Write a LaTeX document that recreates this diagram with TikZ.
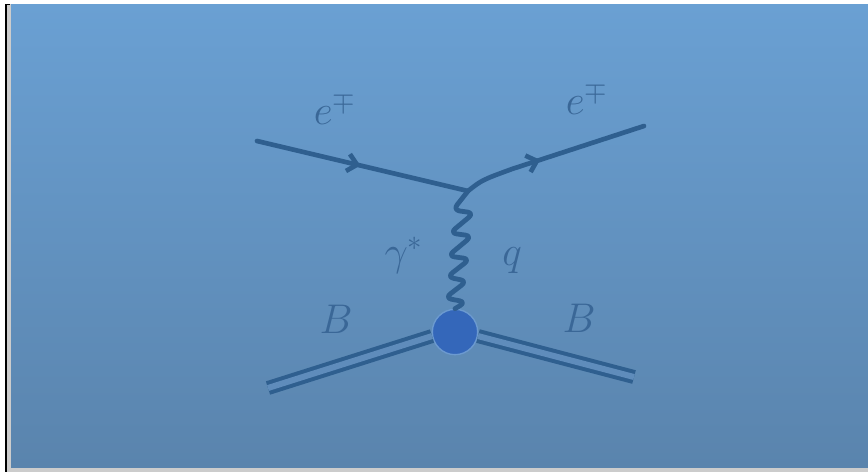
\documentclass[tikz,border=0pt]{standalone}
\usepackage{tikz}
\usetikzlibrary{arrows.meta, decorations.markings}
\usepackage{xcolor}
\usepackage{amsmath}
\definecolor{slidetop}{HTML}{6AA0D3}
\definecolor{slidebot}{HTML}{5A84AD}
\definecolor{lineblue}{HTML}{2F5F8F}
\definecolor{textblue}{HTML}{3A6797}
\definecolor{blobfill}{HTML}{3467BA}
\definecolor{blobedge}{HTML}{6C9AD0}
\definecolor{gapblue}{HTML}{5F8CBB}
\tikzset{
  fermion/.style={draw=lineblue, line width=3.5pt, line cap=round,
                  postaction={decorate},
                  decoration={markings, mark=at position #1 with
                    {\arrow{Straight Barb[length=7pt, width=13pt, line width=3.5pt]}}}},
  fermion/.default=0.5,
  photon/.style={draw=lineblue, line width=3.6pt, line cap=round,
                 line join=round, rounded corners=5pt},
  hadron/.style={draw=lineblue, line width=3pt, double=gapblue,
                 double distance=4.5pt},
  plbl/.style={text=textblue, font=\huge, scale=1.5, transform shape},
}

\begin{document}
\begin{tikzpicture}[x=0.75pt, y=-0.75pt]
  \useasboundingbox (0,0) rectangle (868,472);
  % slide frame
  \fill[white] (0,0) rectangle (868,472);
  \fill[black!20] (7,4) rectangle (868,472);
  \shade[top color=slidetop, bottom color=slidebot] (11,4) rectangle (868,467);
  \fill[black] (5,4) rectangle (7,472);
  \fill[black] (5,4) rectangle (10,5);

  % vertices and ends
  \coordinate (ein) at (257,141);
  \coordinate (vtx) at (468,191);
  \coordinate (ebend) at (512,169);
  \coordinate (eout) at (644,126);
  \node[circle, fill=blobfill, draw=blobedge, line width=1pt,
        minimum size=34pt, inner sep=0pt] (blob) at (455,332) {};
  \coordinate (bin) at (268,388);
  \coordinate (bout) at (634,377);

  % lines
  \draw[fermion=0.49] (ein) -- (vtx);
  \draw[fermion=0.42] (vtx) .. controls (482,180) .. (ebend) -- (eout);
  \draw[photon] (vtx) -- (453,210) -- (474,213) -- (450,233) -- (472,236)
    -- (448,256) -- (470,259) -- (447,277) -- (467,281) -- (445,298)
    -- (466,302) -- (blob.north);
  \draw[hadron] (bin) -- (blob.190);
  \draw[hadron] (blob.-10) -- (bout);

  % labels
  \node[plbl] (lein) at (335,109) {$e^{\mp}$};
  \node[plbl] (leout) at (587,99) {$e^{\mp}$};
  \node[plbl] (lgam) at (404,255) {$\gamma^{*}$};
  \node[plbl] (lq) at (512,261) {$q$};
  \node[plbl] (lbin) at (336,319) {$B$};
  \node[plbl] (lbout) at (579,318) {$B$};
\end{tikzpicture}
\end{document}
